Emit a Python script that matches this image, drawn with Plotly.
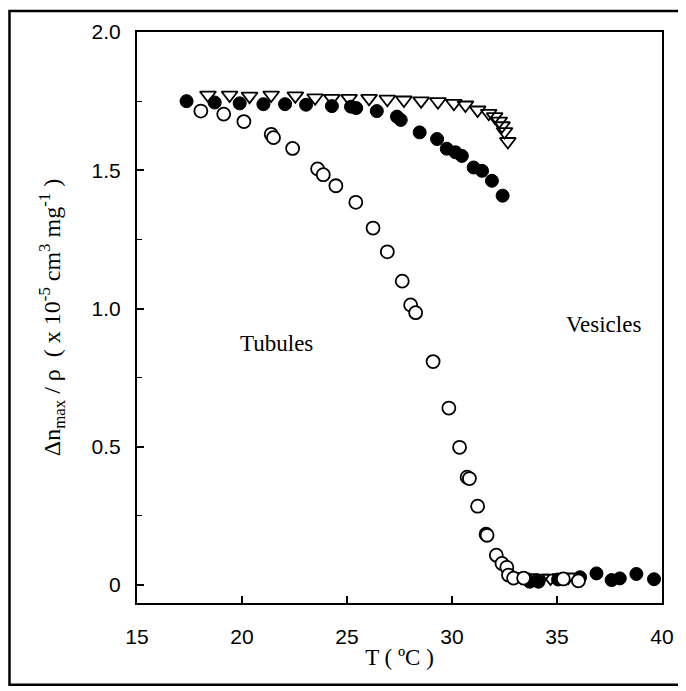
import plotly.graph_objects as go

# Filled circles
filled_T = [17.36, 18.70, 19.89, 21.02, 22.05, 23.05, 24.28, 25.19, 25.44, 26.42, 27.38, 27.56,
            28.46, 29.29, 29.75, 30.17, 30.47, 31.03, 31.43, 31.90, 32.41,
            33.70, 34.12, 35.05, 36.10, 36.88, 37.60, 37.99, 38.78, 39.62]
filled_v = [1.750, 1.745, 1.742, 1.739, 1.739, 1.737, 1.732, 1.730, 1.725, 1.714, 1.694, 1.682,
            1.637, 1.613, 1.578, 1.565, 1.552, 1.510, 1.498, 1.462, 1.408,
            0.012, 0.012, 0.020, 0.028, 0.042, 0.018, 0.024, 0.040, 0.021]

# Open circles
open_T = [18.04, 19.13, 20.09, 21.39, 21.50, 22.41, 23.60, 23.87, 24.47, 25.42, 26.24, 26.92,
          27.63, 28.03, 28.27, 29.10, 29.85, 30.36, 30.72, 30.83, 31.22, 31.62, 31.67, 32.11,
          32.38, 32.61, 32.69, 32.93, 33.41, 35.30, 36.02]
open_v = [1.714, 1.703, 1.676, 1.630, 1.618, 1.579, 1.505, 1.484, 1.444, 1.384, 1.291, 1.205,
          1.099, 1.013, 0.985, 0.808, 0.640, 0.498, 0.390, 0.385, 0.285, 0.184, 0.180, 0.108,
          0.078, 0.064, 0.036, 0.025, 0.025, 0.022, 0.015]

# Open down-triangles
tri_T = [18.38, 19.41, 20.36, 21.39, 22.54, 23.48, 24.28, 25.10, 26.05, 26.92, 27.71, 28.53,
         29.33, 30.09, 30.64, 31.22, 31.75, 32.03, 32.25, 32.38, 32.50, 32.66,
         32.84, 33.31, 33.74, 34.26, 34.69, 35.16, 35.54]
tri_v = [1.772, 1.772, 1.768, 1.772, 1.769, 1.762, 1.760, 1.760, 1.760, 1.757, 1.754, 1.751,
         1.748, 1.742, 1.736, 1.718, 1.706, 1.694, 1.678, 1.661, 1.640, 1.604,
         0.029, 0.029, 0.027, 0.025, 0.025, 0.027, 0.029]

x_ticks = [15, 20, 25, 30, 35, 40]
x_ticktext = ["15", "20", "25", "30", "35", "40"]
y_ticks = [0, 0.5, 1.0, 1.5, 2.0]
y_ticktext = ["0", "0.5", "1.0", "1.5", "2.0"]

fig = go.Figure()
fig.add_trace(go.Scatter(x=filled_T, y=filled_v, mode="markers",
                         marker=dict(symbol="circle", size=13, color="black",
                                     line=dict(color="black", width=1))))
fig.add_trace(go.Scatter(x=tri_T, y=tri_v, mode="markers",
                         marker=dict(symbol="triangle-down-open", size=14, color="black",
                                     line=dict(color="black", width=1.8))))
fig.add_trace(go.Scatter(x=open_T, y=open_v, mode="markers",
                         marker=dict(symbol="circle", size=13, color="white",
                                     line=dict(color="black", width=1.8))))

tickfont = dict(family="Liberation Sans Narrow, Liberation Sans, Arial", size=21, color="black")
serif = "Liberation Serif, Times New Roman, serif"

fig.update_xaxes(range=[15, 40], tickvals=x_ticks, ticktext=x_ticktext, ticks="inside",
                 ticklen=7, tickwidth=1.5, tickcolor="black", showline=True, linecolor="black",
                 linewidth=2, mirror=True, showgrid=False, zeroline=False, tickfont=tickfont,
                 ticklabelstandoff=14,
                 title=dict(text="T ( ºC )", font=dict(family=serif, size=23, color="black"),
                            standoff=2))
fig.update_yaxes(range=[-0.065, 2.0], tickvals=y_ticks, ticktext=y_ticktext, ticks="inside",
                 ticklen=7, tickwidth=1.5, tickcolor="black", showline=True, linecolor="black",
                 linewidth=2, mirror=True, showgrid=False, zeroline=False, tickfont=tickfont,
                 minor=dict(dtick=0.25, ticks="inside", ticklen=5, tickcolor="black", tickwidth=1),
                 ticklabelstandoff=10,
                 title=dict(text="Δn<sub>max</sub> / ρ  ( x 10<sup>-5</sup> cm<sup>3</sup> mg<sup>-1</sup> )",
                            font=dict(family=serif, size=24, color="black"), standoff=24))

fig.add_annotation(x=21.64, y=0.872, xref="x", yref="y", text="Tubules", showarrow=False,
                   font=dict(family=serif, size=23, color="black"))
fig.add_annotation(x=37.2, y=0.944, xref="x", yref="y", text="Vesicles", showarrow=False,
                   font=dict(family=serif, size=23, color="black"))

# outer frame
fig.add_shape(type="rect", xref="paper", yref="paper",
              x0=(1 - 129) / 527, x1=(675 - 129) / 527,
              y0=(595 - 677) / 573, y1=(595 - 1) / 573,
              line=dict(color="black", width=2.5))

fig.update_layout(width=678, height=683, showlegend=False,
                  margin=dict(l=129, r=22, t=22, b=88),
                  paper_bgcolor="white", plot_bgcolor="white")

fig.write_html("out.html")
